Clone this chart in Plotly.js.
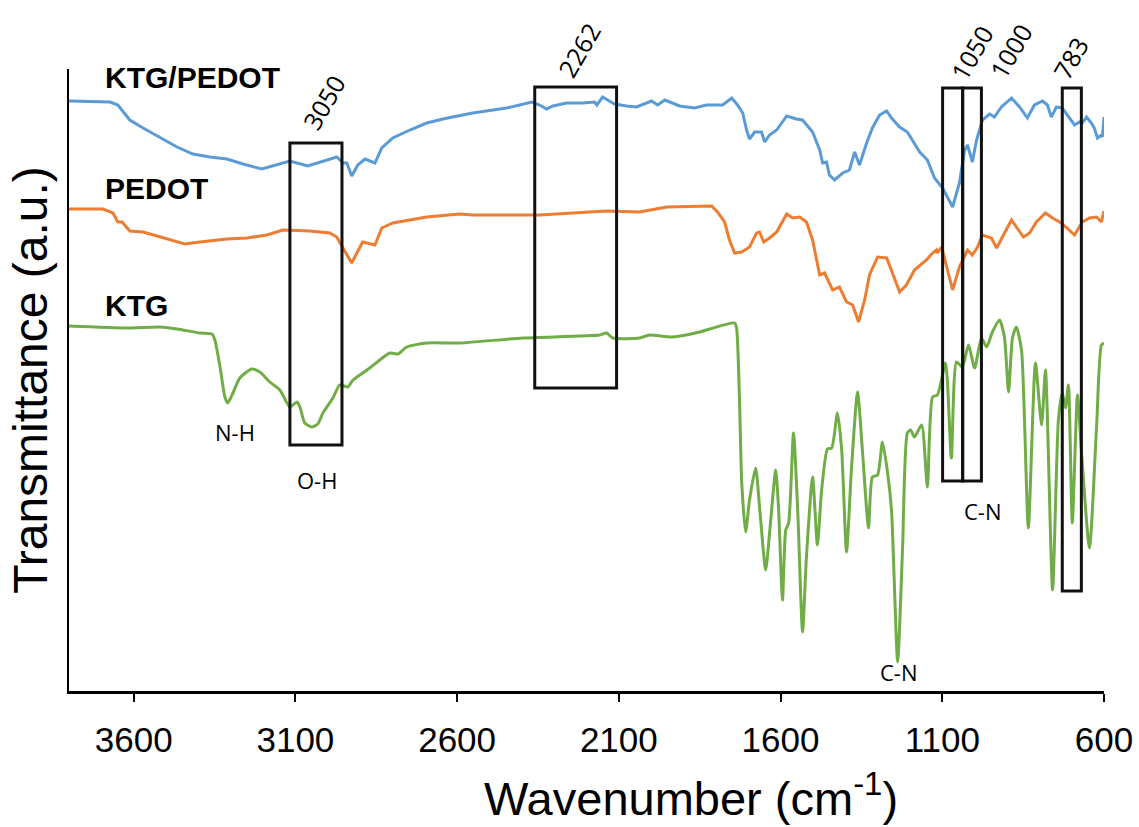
<!DOCTYPE html>
<html>
<head>
<meta charset="utf-8">
<script src="https://cdn.plot.ly/plotly-3.0.1.min.js"></script>
<style>html,body{margin:0;padding:0;background:#fff;}#chart{width:1139px;height:827px;}</style>
</head>
<body>
<div id="chart"></div>
<script>
// ---- Data (wavenumber in cm-1, transmittance in arbitrary units with vertical offsets) ----
const ktgPedotWn = [3800,3673,3649,3612,3571,3519,3466,3417,3364,3312,3262,3204,3170,3117,3062,3015,2972,2953,2941,2926,2907,2885,2854,2833,2799,2746,2694,2644,2592,2552,2447,2369,2345,2323,2304,2261,2212,2175,2168,2150,2135,2113,2076,2045,1999,1980,1958,1912,1866,1829,1779,1751,1733,1717,1705,1696,1680,1659,1649,1634,1612,1581,1551,1532,1501,1479,1470,1458,1449,1433,1408,1387,1371,1356,1334,1316,1294,1272,1257,1232,1208,1170,1146,1124,1099,1068,1047,1031,1022,1007,994,976,954,939,917,886,861,837,815,790,775,763,747,729,691,676,667,654,639,630,620,608,605,600];
const ktgPedotT = [590,589,586,571,563,554,544,537,534,532,527,522,525,530,525,530,534,528,528,515,526,532,528,543,553,561,568,572,575,578,583,589,586,582,585,588,588,589,586,594,591,587,585,584,590,586,591,585,583,586,586,593,586,578,561,552,559,559,549,556,561,575,572,571,559,541,528,529,516,511,518,521,539,526,548,563,576,580,573,564,559,539,531,513,503,484,508,541,546,529,551,571,577,574,584,593,584,573,586,590,586,574,584,583,566,569,568,574,568,563,553,556,554,574];

const pedotWn = [3800,3695,3664,3649,3636,3612,3571,3540,3488,3442,3395,3312,3250,3188,3139,3055,2994,2972,2953,2926,2910,2892,2854,2833,2799,2694,2592,2552,2345,2138,2036,1952,1813,1795,1773,1758,1742,1720,1696,1674,1665,1652,1634,1612,1581,1563,1541,1520,1501,1479,1464,1439,1418,1396,1377,1359,1340,1325,1300,1272,1254,1232,1211,1186,1149,1130,1118,1115,1102,1087,1068,1047,1022,1007,991,976,948,932,914,886,871,849,830,809,781,759,732,691,667,645,623,608,600];
const pedotT = [482,482,478,469,469,460,459,456,451,447,449,452,453,456,461,460,458,454,443,428,438,449,446,463,468,474,477,476,476,480,479,484,485,479,469,451,438,439,444,458,459,449,453,459,477,473,474,469,451,416,418,401,404,389,386,369,391,416,434,433,418,399,406,421,431,438,441,438,444,424,401,424,441,436,444,456,453,443,454,471,464,454,458,469,478,473,468,456,469,473,474,469,480];

const ktgWn = [3800,3621,3519,3466,3395,3358,3349,3333,3318,3309,3293,3272,3235,3210,3179,3148,3117,3095,3086,3071,3049,3031,3015,2984,2963,2938,2922,2870,2808,2783,2756,2694,2592,2397,2159,2138,2119,2036,2005,1934,1850,1819,1742,1736,1727,1720,1708,1696,1677,1665,1646,1634,1615,1606,1594,1584,1575,1560,1547,1532,1520,1501,1486,1473,1455,1442,1424,1411,1396,1381,1362,1347,1328,1316,1300,1285,1269,1257,1238,1223,1208,1198,1186,1164,1146,1130,1115,1090,1072,1056,1038,1019,1000,979,963,945,923,908,895,883,871,855,834,812,793,781,759,741,729,719,710,698,682,670,645,623,608,600];
const ktgT = [365,363,364,362,358,357,351,324,294,288,298,313,322,319,309,301,284,289,284,268,264,267,278,293,306,304,311,323,338,337,344,348,348,353,356,358,353,353,356,354,359,362,368,363,291,208,159,191,223,184,121,158,221,181,91,161,168,258,181,59,134,214,146,201,242,243,278,241,139,221,299,241,163,214,216,249,218,181,29,141,258,261,254,266,204,294,296,328,233,329,324,346,323,353,344,359,371,354,299,353,364,341,163,328,266,321,101,271,298,283,306,168,296,241,143,264,346,348];

const seriesNames = ["KTG/PEDOT", "PEDOT", "KTG"];
const tickVals = [3600, 3100, 2600, 2100, 1600, 1100, 600];
const tickText = ["3600", "3100", "2600", "2100", "1600", "1100", "600"];

// marked bands: label, wavenumber start/end, transmittance bottom/top of the box
const bandLabels = ["3050", "2262", "1050", "1000", "783"];
const bandFrom = [3117, 2360, 1099, 1037, 729];
const bandTo = [2956, 2107, 1037, 979, 670];
const bandBottom = [246, 303, 210, 210, 100];
const bandTop = [548, 604, 603, 603, 603];

const groupLabels = ["N-H", "O-H", "C-N", "C-N"];

// ---- Styling / layout ----
const FONT = "Liberation Sans, Arial, sans-serif";
const SMALL = "Open Sans, Noto Sans, sans-serif";

const traces = [
  {x: ktgPedotWn, y: ktgPedotT, name: seriesNames[0], mode: "lines", line: {color: "#5B9BD5", width: 3}},
  {x: pedotWn, y: pedotT, name: seriesNames[1], mode: "lines", line: {color: "#ED7D31", width: 3}},
  {x: ktgWn, y: ktgT, name: seriesNames[2], mode: "lines", line: {color: "#70AD47", width: 3, shape: "spline", smoothing: 0.6}}
];

const shapes = bandLabels.map((_, i) => ({
  type: "rect", xref: "x", yref: "y",
  x0: bandFrom[i], x1: bandTo[i], y0: bandBottom[i], y1: bandTop[i],
  line: {color: "#111", width: 3}, fillcolor: "rgba(0,0,0,0)", layer: "above"
}));

// label positions: x in wavenumber, y as fraction of plot height (labels sit above the plot)
const bandLabelPos = [[3012, 0.947], [2224, 1.031], [1010, 1.026], [889, 1.029], [704, 1.018]];
const annotations = [];
bandLabels.forEach((t, i) => annotations.push({
  x: bandLabelPos[i][0], y: bandLabelPos[i][1], xref: "x", yref: "paper", text: t,
  showarrow: false, textangle: -60, xanchor: "center", yanchor: "middle",
  font: {family: SMALL, size: 25, color: "#000"}
}));
const seriesLabelPos = [[3696, 614], [3696, 503], [3696, 386]];
seriesNames.forEach((t, i) => annotations.push({
  x: seriesLabelPos[i][0], y: seriesLabelPos[i][1], xref: "x", yref: "y", text: "<b>" + t + "</b>",
  showarrow: false, xanchor: "left", yanchor: "middle", font: {family: FONT, size: 30, color: "#000"}
}));
const groupLabelPos = [[3286, 259], [3032, 211], [1235, 19], [974, 180]];
groupLabels.forEach((t, i) => annotations.push({
  x: groupLabelPos[i][0], y: groupLabelPos[i][1], xref: "x", yref: "y", text: t,
  showarrow: false, font: {family: SMALL, size: 22, color: "#000"}
}));
annotations.push({
  x: 0.601, y: -0.168, xref: "paper", yref: "paper", text: "Wavenumber (cm<sup>-1</sup>)",
  showarrow: false, xanchor: "center", yanchor: "middle", font: {family: FONT, size: 47, color: "#000"}
});

const layout = {
  width: 1139, height: 827,
  margin: {l: 69, r: 35, t: 69, b: 136},
  paper_bgcolor: "#fff", plot_bgcolor: "#fff",
  showlegend: false,
  font: {family: FONT, color: "#000"},
  xaxis: {
    range: [3800, 600], tickvals: tickVals, ticktext: tickText,
    ticks: "outside", ticklen: 8, tickwidth: 2, tickcolor: "#000",
    showline: true, linecolor: "#000", linewidth: 2.5,
    showgrid: false, zeroline: false,
    tickfont: {family: FONT, size: 35, color: "#000"}, ticklabelstandoff: 8
  },
  yaxis: {
    range: [0, 622], showline: true, linecolor: "#000", linewidth: 2.5,
    showticklabels: false, ticks: "", showgrid: false, zeroline: false,
    title: {text: "Transmittance (a.u.)", font: {family: FONT, size: 48, color: "#000"}, standoff: 4}
  },
  shapes: shapes,
  annotations: annotations
};

Plotly.newPlot("chart", traces, layout, {displayModeBar: false, staticPlot: true});
</script>
</body>
</html>
